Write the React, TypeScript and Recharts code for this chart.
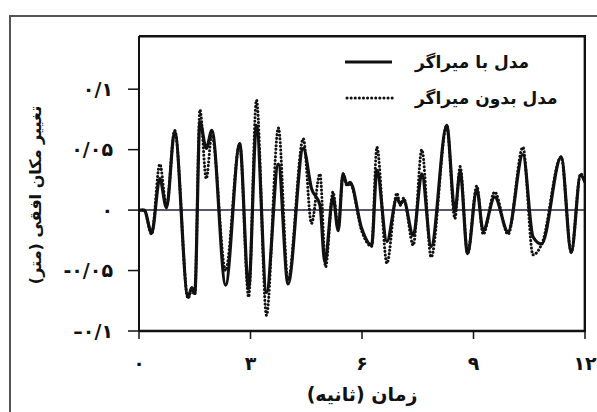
import { LineChart, Line, XAxis, YAxis, ReferenceLine } from "recharts";

// time (s) and horizontal displacement (m), model with damper (solid)
const solidTime = [
  0, 0.14, 0.34, 0.56, 0.74, 0.96, 1.32, 1.42, 1.5, 1.64, 1.81, 1.96, 2.33, 2.71, 2.95,
  3.16, 3.43, 3.75, 4.01, 4.42, 4.64, 4.87, 5.0, 5.22, 5.36, 5.49, 5.6, 5.68, 5.99, 6.26,
  6.4, 6.67, 6.94, 7.03, 7.12, 7.38, 7.61, 7.86, 8.28, 8.5, 8.64, 8.84, 9.09, 9.26, 9.57,
  9.93, 10.33, 10.6, 10.83, 11.36, 11.63, 11.88, 12,
];
const solidDisp = [
  0, 0, -0.019, 0.026, 0.002, 0.065, -0.072, -0.064, -0.069, 0.073, 0.051, 0.066, -0.062, 0.055, -0.065,
  0.07, -0.068, 0.038, -0.061, 0.051, 0.018, 0.004, -0.043, 0.011, -0.017, 0.03, 0.021, 0.023, -0.015, -0.029,
  0.033, -0.026, 0.01, 0.005, 0.008, -0.021, 0.03, -0.03, 0.07, -0.001, 0.032, -0.036, 0.017, -0.017, 0.011,
  -0.018, 0.046, -0.022, -0.028, 0.044, -0.035, 0.029, 0.023,
];

// model without damper (dotted)
const dottedTime = [
  0, 0.14, 0.34, 0.56, 0.74, 0.96, 1.32, 1.42, 1.5, 1.64, 1.81, 1.96, 2.33, 2.71, 2.95,
  3.16, 3.43, 3.75, 4.01, 4.42, 4.64, 4.87, 5.02, 5.22, 5.36, 5.49, 5.6, 5.68, 6.0, 6.26,
  6.4, 6.67, 6.94, 7.03, 7.12, 7.38, 7.61, 7.86, 8.28, 8.5, 8.64, 8.84, 9.09, 9.26, 9.57,
  9.93, 10.33, 10.6, 10.85, 11.36, 11.63, 11.88, 12,
];
const dottedDisp = [
  0, 0, -0.02, 0.038, 0.003, 0.066, -0.073, -0.066, -0.07, 0.083, 0.026, 0.062, -0.05, 0.055, -0.072,
  0.091, -0.087, 0.068, -0.058, 0.059, -0.011, 0.03, -0.047, 0.015, -0.015, 0.03, 0.02, 0.022, -0.018, -0.03,
  0.052, -0.044, 0.014, 0.004, 0.01, -0.029, 0.05, -0.039, 0.07, -0.007, 0.036, -0.036, 0.02, -0.02, 0.015,
  -0.02, 0.052, -0.037, -0.027, 0.044, -0.035, 0.03, 0.024,
];

const xTicks = [0, 3, 6, 9, 12];
const xTickLabels = ["۰", "۳", "۶", "۹", "۱۲"];
const yTicks = [-0.1, -0.05, 0, 0.05, 0.1];
const yTickLabels = ["–۰/۱", "-۰/۰۵", "۰", "۰/۰۵", "۰/۱"];

const seriesNames = ["مدل با میراگر", "مدل بدون میراگر"];
const xTitle = "زمان (ثانیه)";
const yTitle = "تغییر مکان افقی (متر)";

const solidData = solidTime.map((t, i) => ({ t, v: solidDisp[i] }));
const dottedData = dottedTime.map((t, i) => ({ t, v: dottedDisp[i] }));

const FONT = "'DejaVu Sans', sans-serif";
const INK = "#111";

export default function App() {
  return (
    <div style={{ position: "absolute", left: 0, top: 0, width: 597, height: 412, background: "#fff" }}>
      {/* outer figure frame */}
      <div
        style={{
          position: "absolute",
          left: 9,
          top: 15,
          width: 586,
          height: 395,
          borderLeft: "2px solid #555",
          borderTop: "2px solid #555",
        }}
      />
      <LineChart width={597} height={412} margin={{ top: 36, right: 12, bottom: 0, left: 0 }}>
        <XAxis
          dataKey="t"
          type="number"
          domain={[0, 12]}
          ticks={xTicks}
          allowDataOverflow
          height={81}
          tickSize={8}
          tickMargin={18}
          tickFormatter={(v) => xTickLabels[xTicks.indexOf(v)]}
          tick={{ fill: INK, fontSize: 19, fontWeight: "bold", fontFamily: FONT }}
          axisLine={{ stroke: INK, strokeWidth: 2.5 }}
          tickLine={{ stroke: INK, strokeWidth: 1.5 }}
          label={({ viewBox }: any) => (
            <text x={viewBox.x + viewBox.width / 2} y={401} textAnchor="middle" fill={INK} fontSize={19} fontWeight="bold" fontFamily={FONT}>
              {xTitle}
            </text>
          )}
        />
        <YAxis
          type="number"
          domain={[-0.1, 0.144]}
          ticks={yTicks}
          allowDataOverflow
          width={139}
          tickSize={11}
          tickMargin={15}
          tickFormatter={(v) => yTickLabels[yTicks.indexOf(v)]}
          tick={{ fill: INK, fontSize: 19, fontWeight: "bold", fontFamily: FONT }}
          axisLine={{ stroke: INK, strokeWidth: 2 }}
          tickLine={{ stroke: INK, strokeWidth: 1.5 }}
          label={() => (
            <text x={41} y={195} transform="rotate(-90 41 195)" textAnchor="middle" fill={INK} fontSize={16} fontWeight="bold" fontFamily={FONT}>
              {yTitle}
            </text>
          )}
        />
        {/* plot box: top and right edges */}
        <ReferenceLine y={0.1435} stroke={INK} strokeWidth={2} ifOverflow="visible" />
        <ReferenceLine x={11.99} stroke={INK} strokeWidth={2} ifOverflow="visible" />
        <ReferenceLine y={0} stroke="#1c2333" strokeWidth={1.5} />
        <Line
          data={dottedData}
          dataKey="v"
          type="monotone"
          stroke={INK}
          strokeWidth={3}
          strokeDasharray="0.1 3.6"
          strokeLinecap="round"
          dot={false}
          isAnimationActive={false}
        />
        <Line
          data={solidData}
          dataKey="v"
          type="monotone"
          stroke={INK}
          strokeWidth={3.2}
          dot={false}
          isAnimationActive={false}
        />
      </LineChart>
      <div
        style={{
          position: "absolute",
          left: 139,
          top: 35,
          width: 447,
          height: 297,
          borderTop: "2px solid #111",
          borderRight: "2px solid #111",
          boxSizing: "border-box",
        }}
      />
      <div style={{ position: "absolute", left: 345, top: 49, fontFamily: FONT, fontSize: 17, fontWeight: "bold", color: INK }}>
        <div style={{ display: "flex", alignItems: "center", height: 26 }}>
          <svg width={50} height={10} style={{ marginRight: 20 }}>
            <line x1={0} y1={5} x2={47} y2={5} stroke={INK} strokeWidth={3} />
          </svg>
          <span>{seriesNames[0]}</span>
        </div>
        <div style={{ display: "flex", alignItems: "center", height: 26, marginTop: 10 }}>
          <svg width={50} height={10} style={{ marginRight: 20 }}>
            <line x1={2} y1={5} x2={48} y2={5} stroke={INK} strokeWidth={3} strokeDasharray="0.1 4" strokeLinecap="round" />
          </svg>
          <span>{seriesNames[1]}</span>
        </div>
      </div>
    </div>
  );
}
